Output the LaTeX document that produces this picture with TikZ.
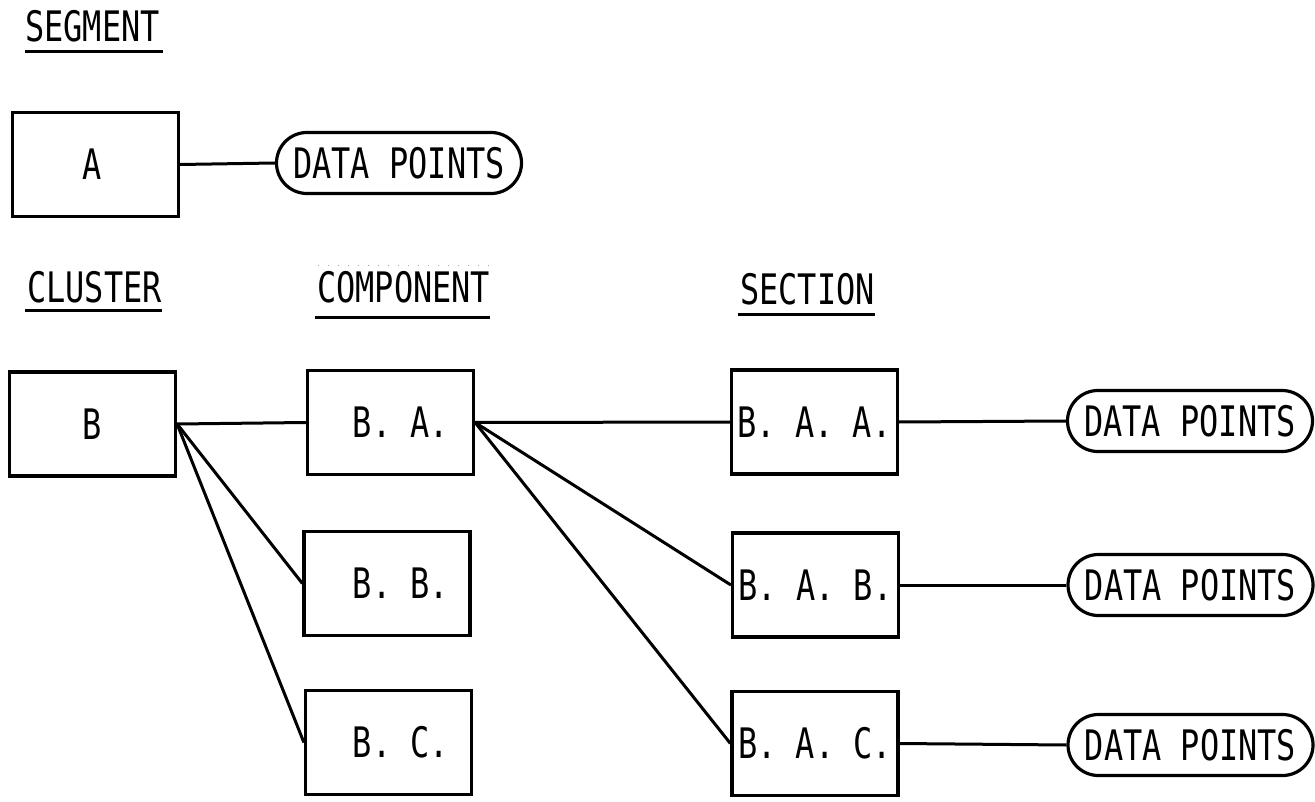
\documentclass[tikz,border=0pt]{standalone}
\usepackage{fontspec}
\newfontfamily\plotfont[FakeStretch=0.76]{DejaVu Sans Mono}
\newcommand\lblfont{\plotfont\fontsize{42}{46}\selectfont}
\usetikzlibrary{shapes.misc,calc}
\begin{document}
\begin{tikzpicture}[x=1pt,y=-1pt,
  box/.style={draw, rectangle, line width=3.2pt, minimum width=166pt, minimum height=104pt, inner sep=0pt, font=\lblfont},
  pill/.style={draw, rounded rectangle, line width=3.2pt, minimum width=245pt, minimum height=61pt, inner sep=0pt, font=\lblfont},
  title/.style={anchor=base west, inner sep=0pt, font=\lblfont},
  link/.style={line width=3pt},
  rule/.style={line width=3pt}]
\fill[white] (0,0) rectangle (1315,802);
\useasboundingbox (0,0) rectangle (1315,802);

% level headings with their underlines
\node[title] (seg) at (25,42) {SEGMENT};
\draw[rule] ($(seg.base west)+(0,10)$) -- ($(seg.base east)+(3,10)$);
\node[title] (clu) at (27,303) {CLUSTER};
\draw[rule] ($(clu.base west)+(-2,8)$) -- ($(clu.base east)+(0,8)$);
\node[title] (com) at (317,303) {COMPONENT};
\draw[rule] ($(com.base west)+(-2,15)$) -- ($(com.base east)+(0,15)$);
\draw[gray!70, line width=0.9pt, dash pattern=on 1pt off 9pt] ($(com.base west)+(1,-38)$) -- ($(com.base east)+(-2,-38)$);
\node[title] (sec) at (740,305) {SECTION};
\draw[rule] ($(sec.base west)+(-2,10)$) -- ($(sec.base east)+(0,10)$);

% segment
\node[box] (A) at (95.5,164.5) {\hspace*{-6pt}A};
\node[pill] (PA) at (399,163) {DATA POINTS};

% cluster and components
\node[box] (B) at (92.5,424) {B};
\node[box] (BA) at (390.5,422.5) {\hspace*{21pt}B. A.};
\node[box] (BB) at (387,583.5) {\hspace*{28pt}B. B.};
\node[box] (BC) at (388.5,742.5) {\hspace*{25pt}B. C.};

% sections
\node[box] (BAA) at (814.5,422) {B. A. A.};
\node[box] (BAB) at (815.5,585) {B. A. B.};
\node[box] (BAC) at (815,743.5) {B. A. C.};

% data point terminals
\node[pill] (P1) at (1190,421) {DATA POINTS};
\node[pill] (P2) at (1190.5,585) {DATA POINTS};
\node[pill] (P3) at (1190.5,745) {DATA POINTS};

% connectors
\draw[link] (A.east) -- (PA.west);
\draw[link] (B.east) -- (BA.west);
\draw[link] (B.east) -- (BB.west);
\draw[link] (B.east) -- (BC.west);
\draw[link] (BA.east) -- (BAA.west);
\draw[link] (BA.east) -- (BAB.west);
\draw[link] (BA.east) -- (BAC.west);
\draw[link] (BAA.east) -- (P1.west);
\draw[link] (BAB.east) -- (P2.west);
\draw[link] (BAC.east) -- (P3.west);
\end{tikzpicture}
\end{document}
